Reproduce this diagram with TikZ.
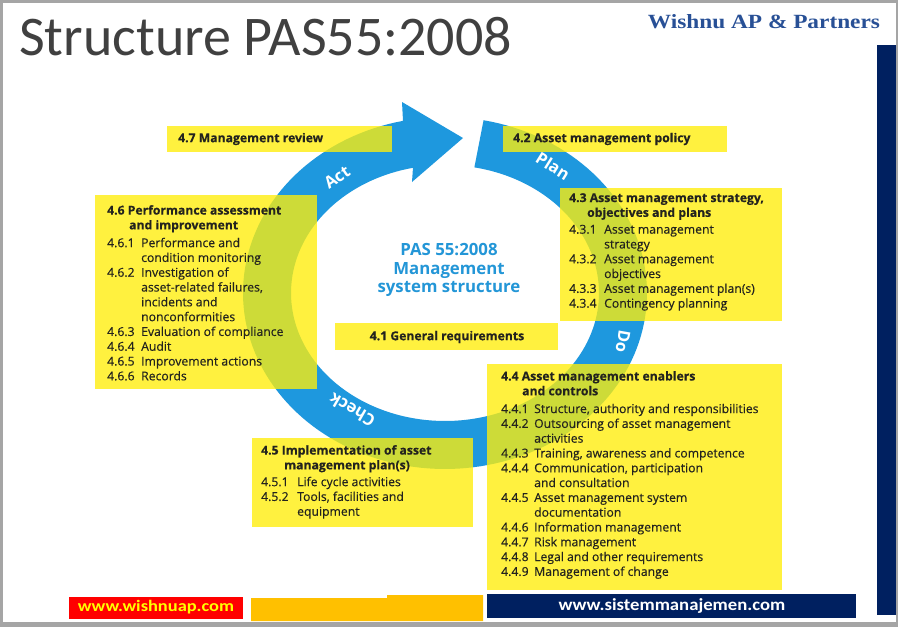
\documentclass[tikz,border=0pt]{standalone}
\usepackage{fontspec}
\setmainfont{Open Sans}
\newfontfamily\itemfont[FakeBold=0.4]{Open Sans}
\newfontfamily\titlefont{Carlito}
\newfontfamily\logofont{Liberation Serif}
\usepackage{graphicx}
\definecolor{ringblue}{RGB}{30,152,222}
\definecolor{boxyellow}{RGB}{255,238,10}
\definecolor{txt}{RGB}{35,35,30}
\definecolor{pasblue}{RGB}{35,150,215}
\definecolor{navy}{RGB}{0,32,96}
\definecolor{logoblue}{RGB}{40,80,150}
\definecolor{titlegray}{RGB}{64,64,64}
\definecolor{footred}{RGB}{255,0,0}
\definecolor{footorange}{RGB}{255,192,0}
\definecolor{footyellow}{RGB}{255,255,0}
\definecolor{framegray}{RGB}{165,165,165}
\tikzset{
  ybox/.style={rectangle, draw=none, fill=boxyellow, fill opacity=0.78, inner sep=0pt, anchor=north west},
  btext/.style={anchor=north west, inner sep=0pt, text=txt, align=left,
    font=\itemfont\fontsize{12.2}{14.8}\selectfont},
  htext/.style={anchor=west, inner sep=0pt, text=txt,
    font=\itemfont\bfseries\fontsize{12.2}{14.8}\selectfont},
  ringlabel/.style={text=white, inner sep=0pt, font=\bfseries\fontsize{16.5}{16.5}\selectfont},
}
\newcommand\nm[2]{\makebox[#1][l]{#2}}
\begin{document}
\begin{tikzpicture}[x=1pt,y=-1pt]
\useasboundingbox (0,0) rectangle (898,627);
% frame
\fill[framegray] (0,0) rectangle (898,627);
\fill[white] (3,3) rectangle (896,622);
% title and logo
\node[anchor=base west, inner sep=0pt, text=titlegray, font=\titlefont\fontsize{56}{56}\selectfont] (title) at (19,55) {Structure PAS55:2008};
\node[anchor=center, inner sep=0pt, text=logoblue] (logo) at (764,22) {\resizebox{232pt}{14pt}{\logofont\bfseries Wishnu AP \& Partners}};
% right bar
\fill[navy] (877,45) rectangle (896,615);
% ring
\fill[ringblue]
  plot[domain=79:-258, samples=160] ({445+202*cos(\x)},{293-176*sin(\x)})
  -- (402,102) -- (463,138) -- (412,182)
  -- plot[domain=-258:79, samples=160] ({445+154*cos(\x)},{293-128*sin(\x)})
  -- cycle;
\node[ringlabel, rotate=34] (act) at (337,177) {Act};
\node[ringlabel, rotate=-32] (plan) at (553,166) {Plan};
\node[ringlabel, rotate=-100] (do) at (623,342) {Do};
\node[ringlabel, rotate=150] (check) at (352,410) {Check};
% centre text
\node[align=center, inner sep=0pt, text=pasblue, font=\bfseries\fontsize{16.8}{18.5}\selectfont] (pas) at (449,270) {PAS 55:2008\\Management\\system structure};
% boxes
\node[ybox, minimum width=225pt, minimum height=26pt] (b47) at (167,126) {};
\node[htext] (t47) at (178,139) {4.7 Management review};
\node[ybox, minimum width=224pt, minimum height=26pt] (b42) at (503,126) {};
\node[htext] (t42) at (513,139) {4.2 Asset management policy};
\node[ybox, minimum width=223pt, minimum height=27pt] (b41) at (335,323) {};
\node[htext, anchor=center] (t41) at (447,337) {4.1 General requirements};

\node[ybox, minimum width=222pt, minimum height=194pt] (b46) at (95,195) {};
\node[btext] (t46) at (107,205) {\textbf{4.6 Performance assessment}\\
\hspace*{22pt}\textbf{and improvement}\\[3pt]
\nm{34pt}{4.6.1}Performance and\\
\hspace*{34pt}condition monitoring\\
\nm{34pt}{4.6.2}Investigation of\\
\hspace*{34pt}asset-related failures,\\
\hspace*{34pt}incidents and\\
\hspace*{34pt}nonconformities\\
\nm{34pt}{4.6.3}Evaluation of compliance\\
\nm{34pt}{4.6.4}Audit\\
\nm{34pt}{4.6.5}Improvement actions\\
\nm{34pt}{4.6.6}Records};

\node[ybox, minimum width=222pt, minimum height=133pt] (b43) at (560,188) {};
\node[btext] (t43) at (569,193) {\textbf{4.3 Asset management strategy,}\\
\hspace*{18pt}\textbf{objectives and plans}\\[2pt]
\nm{35pt}{4.3.1}Asset management\\
\hspace*{35pt}strategy\\
\nm{35pt}{4.3.2}Asset management\\
\hspace*{35pt}objectives\\
\nm{35pt}{4.3.3}Asset management plan(s)\\
\nm{35pt}{4.3.4}Contingency planning};

\node[ybox, minimum width=295pt, minimum height=226pt] (b44) at (487,364) {};
\node[btext] (t44) at (501,371) {\textbf{4.4 Asset management enablers}\\
\hspace*{21pt}\textbf{and controls}\\[3pt]
\nm{33pt}{4.4.1}Structure, authority and responsibilities\\
\nm{33pt}{4.4.2}Outsourcing of asset management\\
\hspace*{33pt}activities\\
\nm{33pt}{4.4.3}Training, awareness and competence\\
\nm{33pt}{4.4.4}Communication, participation\\
\hspace*{33pt}and consultation\\
\nm{33pt}{4.4.5}Asset management system\\
\hspace*{33pt}documentation\\
\nm{33pt}{4.4.6}Information management\\
\nm{33pt}{4.4.7}Risk management\\
\nm{33pt}{4.4.8}Legal and other requirements\\
\nm{33pt}{4.4.9}Management of change};

\node[ybox, minimum width=221pt, minimum height=89pt] (b45) at (252,438) {};
\node[btext] (t45) at (261,445) {\textbf{4.5 Implementation of asset}\\
\hspace*{23pt}\textbf{management plan(s)}\\[2pt]
\nm{36pt}{4.5.1}Life cycle activities\\
\nm{36pt}{4.5.2}Tools, facilities and\\
\hspace*{36pt}equipment};
% footer
\fill[footred] (69,597) rectangle (243,619);
\node[inner sep=0pt, text=footyellow, font=\titlefont\bfseries\fontsize{16}{16}\selectfont] (w1) at (156,607) {\scalebox{1.15}[1]{www.wishnuap.com}};
\fill[footorange] (251,598) -- (387,598) -- (387,595) -- (483,595) -- (483,621) -- (251,621) -- cycle;
\fill[navy] (487,594) rectangle (856,618);
\node[inner sep=0pt, text=white, font=\titlefont\bfseries\fontsize{17}{17}\selectfont] (w2) at (672,606) {\scalebox{1.1}[1]{www.sistemmanajemen.com}};
\end{tikzpicture}
\end{document}
